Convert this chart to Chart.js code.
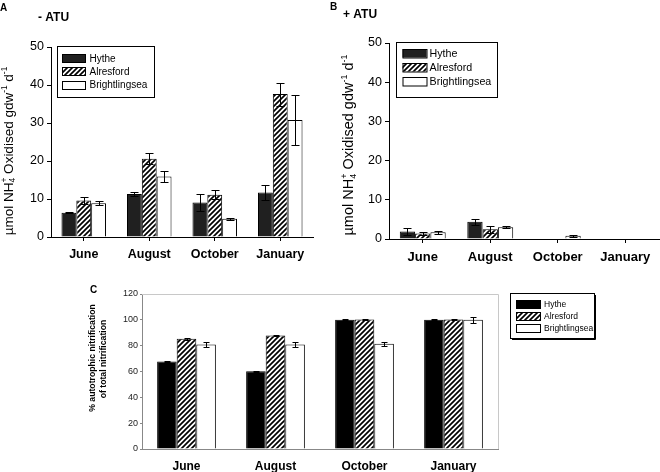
<!DOCTYPE html>
<html>
<head>
<meta charset="utf-8">
<script src="https://cdn.jsdelivr.net/npm/chart.js@4.4.0/dist/chart.umd.min.js"></script>
<style>
  body { margin: 0; background: #fff; }
  #wrap { position: relative; width: 660px; height: 472px; overflow: hidden; }
  canvas { position: absolute; }
</style>
</head>
<body>
<div id="wrap">
  <canvas id="chartA" width="330" height="270" style="left:0;top:0;width:330px;height:270px"></canvas>
  <canvas id="chartB" width="330" height="270" style="left:330px;top:0;width:330px;height:270px"></canvas>
  <canvas id="chartC" width="660" height="202" style="left:0;top:270px;width:660px;height:202px"></canvas>
</div>
<script>
// categories and series
const months = ['June', 'August', 'October', 'January'];
const sites = ['Hythe', 'Alresford', 'Brightlingsea'];
const yTicksAB = [0, 10, 20, 30, 40, 50];
const yTicksC = [0, 20, 40, 60, 80, 100, 120];

// A : - ATU
const hytheA = [6.4, 11.3, 9.1, 11.7];
const hytheAErr = [0.2, 0.5, 2.2, 2.0];
const alresA = [9.6, 20.6, 11.1, 37.6];
const alresAErr = [0.9, 1.4, 1.2, 3.0];
const brightA = [8.9, 15.9, 4.8, 30.8];
const brightAErr = [0.5, 1.5, 0.2, 6.5];

// B : + ATU
const hytheB = [1.9, 4.4, 0, 0];
const hytheBErr = [0.8, 0.8, 0, 0];
const alresB = [1.4, 2.5, 0, 0];
const alresBErr = [0.3, 0.9, 0, 0];
const brightB = [1.7, 3.0, 0.8, 0];
const brightBErr = [0.4, 0.3, 0.25, 0];

// C : % autotrophic nitrification
const hytheC = [67.7, 60.2, 100, 100];
const hytheCErr = [0.4, 0.4, 0.5, 0.5];
const alresC = [85.3, 87.8, 100.2, 100.2];
const alresCErr = [0.8, 0.6, 0.6, 0.6];
const brightC = [80.9, 80.9, 81.4, 100];
const brightCErr = [2.2, 2.2, 1.8, 2.2];

const FAMILY = "Arial, 'Liberation Sans', sans-serif";

// diagonal hatch for Alresford
function makeHatch() {
  const s = 5;
  const c = document.createElement('canvas');
  c.width = s; c.height = s;
  const g = c.getContext('2d');
  g.fillStyle = '#fff';
  g.fillRect(0, 0, s, s);
  g.strokeStyle = '#000';
  g.lineWidth = 1.7;
  g.beginPath();
  g.moveTo(0, s); g.lineTo(s, 0);
  g.moveTo(-1, 1); g.lineTo(1, -1);
  g.moveTo(s - 1, s + 1); g.lineTo(s + 1, s - 1);
  g.stroke();
  return g.createPattern(c, 'repeat');
}
const hatch = makeHatch();

// text with sub / superscripts
function drawRich(ctx, parts, size, weight, align) {
  const fontFor = p => weight + ' ' + ((p.sub || p.sup) ? size * 0.62 : size) + 'px ' + FAMILY;
  let w = 0, lastStart = 0;
  const xs = [];
  parts.forEach(p => {
    ctx.font = fontFor(p);
    const pw = ctx.measureText(p.t).width;
    if (p.stack) {
      xs.push(lastStart);
      w = Math.max(w, lastStart + pw);
    } else {
      xs.push(w);
      lastStart = w;
      w += pw;
    }
  });
  const x0 = align === 'center' ? -w / 2 : align === 'right' ? -w : 0;
  ctx.fillStyle = '#000';
  ctx.textBaseline = 'alphabetic';
  ctx.textAlign = 'left';
  parts.forEach((p, i) => {
    ctx.font = fontFor(p);
    const dy = p.sup ? -size * 0.4 : p.sub ? size * 0.22 : 0;
    ctx.fillText(p.t, x0 + xs[i], dy);
  });
}

const yTitleParts = [
  { t: 'µmol NH' }, { t: '4', sub: true }, { t: '+', sup: true, stack: true },
  { t: ' Oxidised gdw' }, { t: '-1', sup: true }, { t: ' d' }, { t: '-1', sup: true }
];

// plugins
const errorBars = {
  id: 'errorBars',
  afterDatasetsDraw(chart, args, opts) {
    const ctx = chart.ctx;
    const y = chart.scales.y;
    const cap = opts.cap || 4;
    chart.data.datasets.forEach((ds, di) => {
      const meta = chart.getDatasetMeta(di);
      meta.data.forEach((bar, i) => {
        const v = ds.data[i], e = ds.errors[i];
        if (!e) return;
        const x = Math.round(bar.x) + 0.5;
        const top = Math.round(y.getPixelForValue(v + e)) + 0.5;
        const bot = Math.round(y.getPixelForValue(v - e)) + 0.5;
        ctx.save();
        ctx.strokeStyle = '#000';
        ctx.lineWidth = 1;
        ctx.beginPath();
        ctx.moveTo(x, top); ctx.lineTo(x, bot);
        ctx.moveTo(x - cap, top); ctx.lineTo(x + cap, top);
        ctx.moveTo(x - cap, bot); ctx.lineTo(x + cap, bot);
        ctx.stroke();
        ctx.restore();
      });
    });
  }
};

const boxLegend = {
  id: 'boxLegend',
  afterDraw(chart, args, o) {
    const ctx = chart.ctx;
    ctx.save();
    ctx.fillStyle = '#fff';
    ctx.fillRect(o.x, o.y, o.w, o.h);
    ctx.strokeStyle = '#000';
    ctx.lineWidth = 1;
    ctx.strokeRect(o.x + 0.5, o.y + 0.5, o.w, o.h);
    if (o.shadow) {
      ctx.beginPath();
      ctx.moveTo(o.x + o.w + 1.5, o.y + 2);
      ctx.lineTo(o.x + o.w + 1.5, o.y + o.h + 1.5);
      ctx.lineTo(o.x + 2, o.y + o.h + 1.5);
      ctx.stroke();
    }
    chart.data.datasets.forEach((ds, i) => {
      const cy = o.firstRow + i * o.rowH;
      const sy = Math.round(cy - o.swH / 2);
      ctx.fillStyle = ds.backgroundColor;
      ctx.fillRect(o.swX, sy, o.swW, o.swH);
      ctx.strokeStyle = '#000';
      ctx.strokeRect(o.swX + 0.5, sy + 0.5, o.swW, o.swH);
      ctx.fillStyle = '#000';
      ctx.font = o.size + 'px ' + FAMILY;
      ctx.textBaseline = 'middle';
      ctx.textAlign = 'left';
      ctx.fillText(ds.label, o.textX, cy + 0.5);
    });
    ctx.restore();
  }
};

const texts = {
  id: 'texts',
  afterDraw(chart, args, opts) {
    const ctx = chart.ctx;
    (opts.items || []).forEach(it => {
      ctx.save();
      ctx.translate(it.x, it.y);
      if (it.rotate) ctx.rotate(it.rotate * Math.PI / 180);
      drawRich(ctx, it.parts || [{ t: it.text }], it.size, it.weight || 'normal', it.align || 'left');
      ctx.restore();
    });
  }
};

const frame = {
  id: 'frame',
  afterDraw(chart, args, opts) {
    if (!opts.color) return;
    const a = chart.chartArea;
    const ctx = chart.ctx;
    ctx.save();
    ctx.strokeStyle = opts.color;
    ctx.lineWidth = 1;
    ctx.beginPath();
    ctx.moveTo(a.left, Math.round(a.top) + 0.5);
    ctx.lineTo(Math.round(a.right) + 0.5, Math.round(a.top) + 0.5);
    ctx.lineTo(Math.round(a.right) + 0.5, a.bottom);
    ctx.stroke();
    ctx.restore();
  }
};

function makeDatasets(h, hErr, a, aErr, b, bErr, dark) {
  return [
    { label: sites[0], data: h, errors: hErr, backgroundColor: dark, borderColor: '#000', borderWidth: 1 },
    { label: sites[1], data: a, errors: aErr, backgroundColor: hatch, borderColor: '#000', borderWidth: 1 },
    { label: sites[2], data: b, errors: bErr, backgroundColor: '#fff', borderColor: '#000', borderWidth: 1 }
  ];
}

function makeOptions(p) {
  return {
    responsive: false,
    animation: false,
    events: [],
    layout: { padding: { top: p.top, right: p.right, left: 0, bottom: 0 } },
    datasets: { bar: { barPercentage: 1, categoryPercentage: p.catPct } },
    scales: {
      x: {
        grid: { offset: false, drawOnChartArea: false, drawTicks: p.xTicks, tickLength: 4, color: '#000' },
        border: { color: p.axisColor },
        ticks: { color: '#000', padding: p.xPad, font: { family: FAMILY, size: p.xFont, weight: 'bold' } },
        afterFit: s => { s.height = p.xHeight; }
      },
      y: {
        min: 0,
        max: p.ticks[p.ticks.length - 1],
        afterBuildTicks: s => { s.ticks = p.ticks.map(v => ({ value: v })); },
        grid: { drawOnChartArea: false, tickLength: p.yTickLen, color: p.axisColor },
        border: { color: p.axisColor },
        ticks: { color: p.yColor, padding: p.yPad, font: { family: FAMILY, size: p.yFont } },
        afterFit: s => { s.width = p.yWidth; }
      }
    },
    plugins: {
      legend: { display: false },
      tooltip: { enabled: false },
      errorBars: { cap: p.cap },
      boxLegend: p.legend,
      texts: { items: p.texts },
      frame: { color: p.frameColor }
    }
  };
}

const plugins = [errorBars, boxLegend, texts, frame];

// Panel A
new Chart(document.getElementById('chartA'), {
  type: 'bar',
  data: { labels: months, datasets: makeDatasets(hytheA, hytheAErr, alresA, alresAErr, brightA, brightAErr, '#202020') },
  options: makeOptions({
    top: 47, right: 17, catPct: 0.68, xTicks: true, xPad: 6, xFont: 12.5, xHeight: 33,
    ticks: yTicksAB, yTickLen: 4, yPad: 3, yFont: 12.5, yWidth: 51, yColor: '#000', axisColor: '#000', cap: 4,
    legend: { x: 57, y: 46, w: 97, h: 51, swX: 62, swW: 23, swH: 8, firstRow: 58.3, rowH: 13.1, textX: 89.5, size: 10 },
    texts: [
      { text: 'A', x: 0, y: 10.5, size: 10, weight: 'bold' },
      { text: '- ATU', x: 38, y: 21, size: 12, weight: 'bold' },
      { parts: yTitleParts, x: 12.5, y: 151, rotate: -90, size: 13.5, align: 'center' }
    ]
  }),
  plugins
});

// Panel B
new Chart(document.getElementById('chartB'), {
  type: 'bar',
  data: { labels: months, datasets: makeDatasets(hytheB, hytheBErr, alresB, alresBErr, brightB, brightBErr, '#202020') },
  options: makeOptions({
    top: 43, right: 1, catPct: 0.68, xTicks: true, xPad: 7, xFont: 13, xHeight: 31,
    ticks: yTicksAB, yTickLen: 4, yPad: 3, yFont: 12.5, yWidth: 59, yColor: '#000', axisColor: '#000', cap: 4,
    legend: { x: 66, y: 42, w: 101, h: 55, swX: 72.5, swW: 24, swH: 8.5, firstRow: 53.3, rowH: 14, textX: 99.5, size: 10.7 },
    texts: [
      { text: 'B', x: 0, y: 10, size: 10, weight: 'bold' },
      { text: '+ ATU', x: 13, y: 18.3, size: 12, weight: 'bold' },
      { parts: yTitleParts, x: 22.5, y: 145, rotate: -90, size: 14.5, align: 'center' }
    ]
  }),
  plugins
});

// Panel C
new Chart(document.getElementById('chartC'), {
  type: 'bar',
  data: { labels: months, datasets: makeDatasets(hytheC, hytheCErr, alresC, alresCErr, brightC, brightCErr, '#000') },
  options: makeOptions({
    top: 24, right: 162, catPct: 0.66, xTicks: false, xPad: 10, xFont: 12, xHeight: 23,
    ticks: yTicksC, yTickLen: 2, yPad: 2, yFont: 9, yWidth: 142, yColor: '#222', axisColor: '#888', cap: 3,
    frameColor: '#c8c8c8',
    legend: { x: 510, y: 23, w: 84, h: 45, shadow: true, swX: 516, swW: 24, swH: 8, firstRow: 34, rowH: 12, textX: 544, size: 8.5 },
    texts: [
      { text: 'C', x: 90, y: 23, size: 10, weight: 'bold' },
      { text: '% autotrophic nitrification', x: 94.5, y: 88, rotate: -90, size: 8.7, weight: 'bold', align: 'center' },
      { text: 'of total nitrification', x: 105.5, y: 89, rotate: -90, size: 8.7, weight: 'bold', align: 'center' }
    ]
  }),
  plugins
});
</script>
</body>
</html>
